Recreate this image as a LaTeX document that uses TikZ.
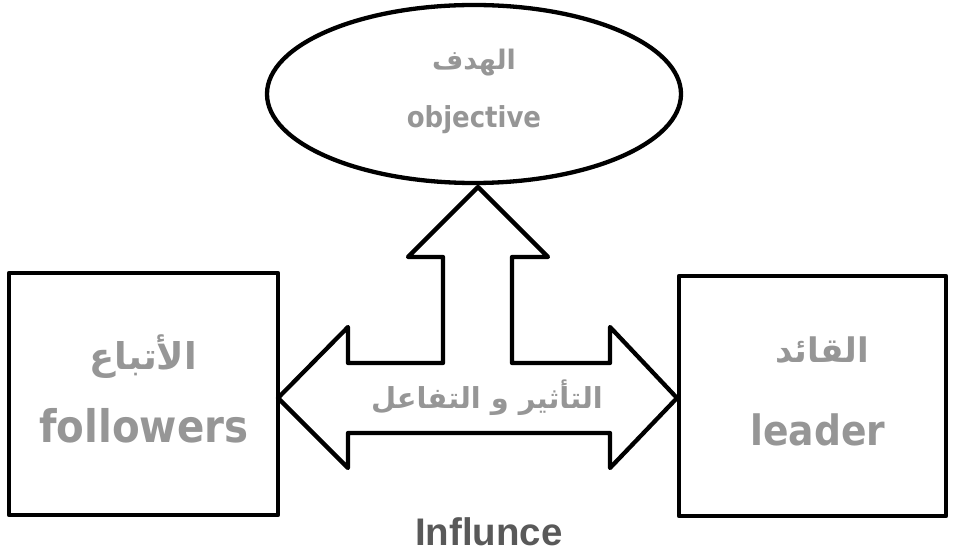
\documentclass[tikz,border=0pt]{standalone}
\usepackage{fontspec}
\setmainfont{DejaVu Sans}
\newfontfamily\labelfont{DejaVu Sans Condensed}
\newfontfamily\arabicfont[Script=Arabic]{DejaVu Sans}
\newfontfamily\captionfont{Liberation Sans}
\TeXXeTstate=1
\usetikzlibrary{shapes.geometric}
\definecolor{wordgray}{RGB}{150,150,150}
\definecolor{captiongray}{RGB}{89,89,89}
\tikzset{
  outline/.style={draw=black, line width=4.3bp, line join=round},
  boxnode/.style={outline, rectangle, inner sep=0pt},
  goalnode/.style={outline, ellipse, inner sep=0pt},
  entxt/.style={text=wordgray, font=\labelfont\bfseries, anchor=base, inner sep=0pt},
  artxt/.style={text=wordgray, font=\arabicfont\bfseries, anchor=center, inner sep=0pt},
}
\begin{document}
\begin{tikzpicture}[x=1bp, y=-1bp]
  \useasboundingbox (0,0) rectangle (956,553);

  % the three parties
  \node[goalnode, minimum width=414bp, minimum height=178bp] (goal) at (474,94) {};
  \node[boxnode, minimum width=269bp, minimum height=242bp] (fol) at (143.5,394) {};
  \node[boxnode, minimum width=267bp, minimum height=240bp] (lead) at (812.5,396) {};

  % T-shaped double arrow between follower, leader and objective
  \coordinate (uptip) at (478,187);
  \coordinate (ltip) at (278,398);
  \coordinate (rtip) at (677,398);
  \draw[outline, fill=white]
    (uptip) -- (548,257) -- (512,257) -- (512,363) -- (610,363) -- (610,327)
    -- (rtip) -- (610,468) -- (610,433) -- (348,433) -- (348,468)
    -- (ltip) -- (348,327) -- (348,363) -- (443,363) -- (443,257)
    -- (408,257) -- cycle;

  % labels
  \node[artxt, font=\arabicfont\bfseries\fontsize{27}{30}\selectfont] (goalar) at (474,63) {\beginR الهدف\endR};
  \node[entxt, font=\labelfont\bfseries\fontsize{29}{34}\selectfont] (goalen) at (474,128) {objective};

  \node[artxt, font=\arabicfont\bfseries\fontsize{37}{40}\selectfont] (folar) at (143,357) {\beginR الأتباع\endR};
  \node[entxt, font=\labelfont\bfseries\fontsize{45}{50}\selectfont] (folen) at (144,442) {followers};

  \node[artxt, font=\arabicfont\bfseries\fontsize{34}{36}\selectfont] (leadar) at (822,350) {\beginR القائد\endR};
  \node[entxt, font=\labelfont\bfseries\fontsize{42}{50}\selectfont] (leaden) at (818,445) {leader};

  \node[artxt, font=\arabicfont\bfseries\fontsize{29}{34}\selectfont] (link) at (487,398) {\beginR التأثير و التفاعل\endR};

  \node[anchor=base, inner sep=0pt, text=captiongray, font=\captionfont\bfseries\fontsize{38.6}{44}\selectfont] (caption) at (489,545) {Influnce};
\end{tikzpicture}
\end{document}
